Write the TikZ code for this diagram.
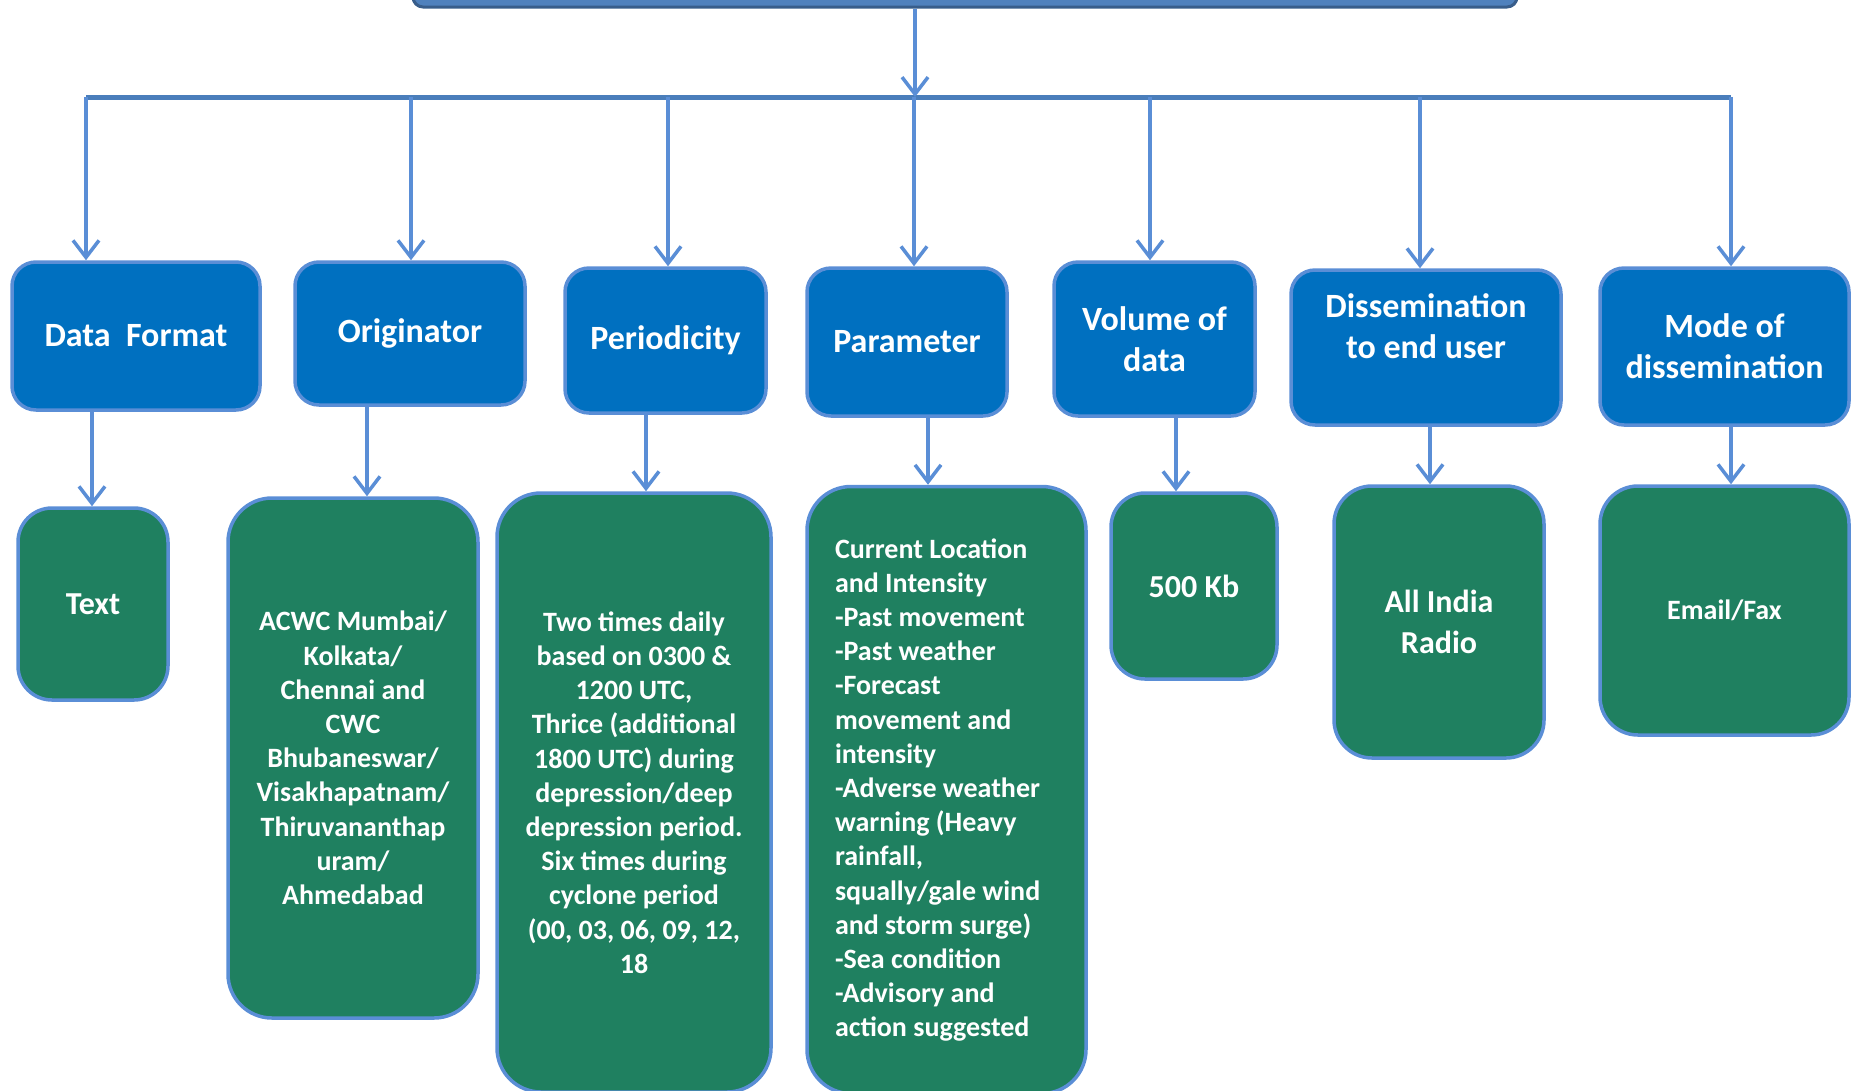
\documentclass[tikz,border=0pt]{standalone}
\usepackage{fontspec}
\setmainfont{Carlito}
\usetikzlibrary{arrows.meta,calc}
\definecolor{topblue}{HTML}{4F81BD}
\definecolor{topedge}{HTML}{385D8A}
\definecolor{barblue}{HTML}{4A7EBB}
\definecolor{linkblue}{HTML}{5A8ED6}
\definecolor{boxblue}{HTML}{0070C0}
\definecolor{boxgreen}{HTML}{1F8060}
\tikzset{
  arr/.style={draw=linkblue, line width=3.5pt, -{Straight Barb[length=17pt,width=26pt,line width=3.5pt]}},
  headbox/.style={draw=linkblue, line width=3.5pt, fill=boxblue, rounded corners=24pt,
    text=white, font=\fontsize{34}{41}\selectfont\bfseries, align=center, inner sep=0pt},
  leafbox/.style={draw=linkblue, line width=3.5pt, fill=boxgreen, rounded corners=34pt,
    text=white, font=\fontsize{28}{34.2}\selectfont\bfseries, align=center, inner sep=0pt},
  bigleaf/.style={leafbox, font=\fontsize{32}{41}\selectfont\bfseries},
}
\begin{document}
\begin{tikzpicture}[x=1pt,y=-1pt]
\useasboundingbox (0,0) rectangle (1851,1090);
% top box (cut by the top edge)
\node[draw=topedge, line width=3pt, fill=topblue, rounded corners=10pt,
  minimum width=1104pt, minimum height=60pt, inner sep=0pt] (top) at (965,-23) {};
% bar
\coordinate (barL) at (86,97);
\coordinate (barR) at (1731,97);
\coordinate (stem) at (915,97);
\draw[barblue, line width=5pt] (barL) -- (barR);
\draw[arr] (top.south -| stem) -- (stem);

% head boxes
\node[headbox, minimum width=248pt, minimum height=148pt] (b1) at (136,336) {Data~ Format};
\node[headbox, minimum width=230pt, minimum height=143pt] (b2) at (410,333.5) {Originator};
\node[headbox, minimum width=201pt, minimum height=145pt] (b3) at (665.5,340.5) {Periodicity};
\node[headbox, minimum width=200pt, minimum height=148pt] (b4) at (907,342) {Parameter};
\node[headbox, minimum width=201pt, minimum height=154pt] (b5) at (1154.5,339) {Volume of\\data};
\node[headbox, minimum width=270pt, minimum height=155pt] (b6) at (1426,347.5) {Dissemination\\to end user\\[1pt]};
\node[headbox, minimum width=249pt, minimum height=157pt] (b7) at (1724.5,346.5) {Mode of\\dissemination};

% drops from bar
\foreach \x/\b in {86/b1,411/b2,668/b3,914/b4,1150/b5,1420/b6,1731/b7}{
  \coordinate (d\b) at (\x,97);
  \draw[arr] (d\b) -- (d\b |- \b.north);
}

% leaf boxes
\node[bigleaf, minimum width=150pt, minimum height=192pt] (g1) at (93,604) {Text};
\node[leafbox, rounded corners=44pt, minimum width=250pt, minimum height=520pt] (g2) at (353,758)
  {ACWC Mumbai/\\Kolkata/\\Chennai and\\CWC\\Bhubaneswar/\\Visakhapatnam/\\Thiruvananthap\\uram/\\Ahmedabad};
\node[leafbox, rounded corners=44pt, minimum width=274pt, minimum height=599pt] (g3) at (634,792.5)
  {Two times daily\\based on 0300 \&\\1200 UTC,\\Thrice (additional\\1800 UTC) during\\depression/deep\\depression period.\\Six times during\\cyclone period\\(00, 03, 06, 09, 12,\\18};
\node[leafbox, rounded corners=44pt, minimum width=279pt, minimum height=607pt, align=flush left,
  text width=223pt, inner xsep=28pt] (g4) at (946.5,790)
  {Current Location\\and Intensity\\-Past movement\\-Past weather\\-Forecast\\movement and\\intensity\\-Adverse weather\\warning (Heavy\\rainfall,\\squally/gale wind\\and storm surge)\\-Sea condition\\-Advisory and\\action suggested};
\node[bigleaf, minimum width=166pt, minimum height=186pt] (g5) at (1194,586) {500 Kb};
\node[bigleaf, rounded corners=38pt, minimum width=210pt, minimum height=272pt] (g6) at (1439,622) {All India\\Radio};
\node[leafbox, rounded corners=38pt, minimum width=249pt, minimum height=249pt] (g7) at (1724.5,610.5) {Email/Fax};

% links head -> leaf
\foreach \x/\b/\g in {92/b1/g1,367/b2/g2,646/b3/g3,928/b4/g4,1176/b5/g5,1430/b6/g6,1731/b7/g7}{
  \coordinate (u\g) at (\x,0);
  \draw[arr] (u\g |- \b.south) -- (u\g |- \g.north);
}
\end{tikzpicture}
\end{document}
